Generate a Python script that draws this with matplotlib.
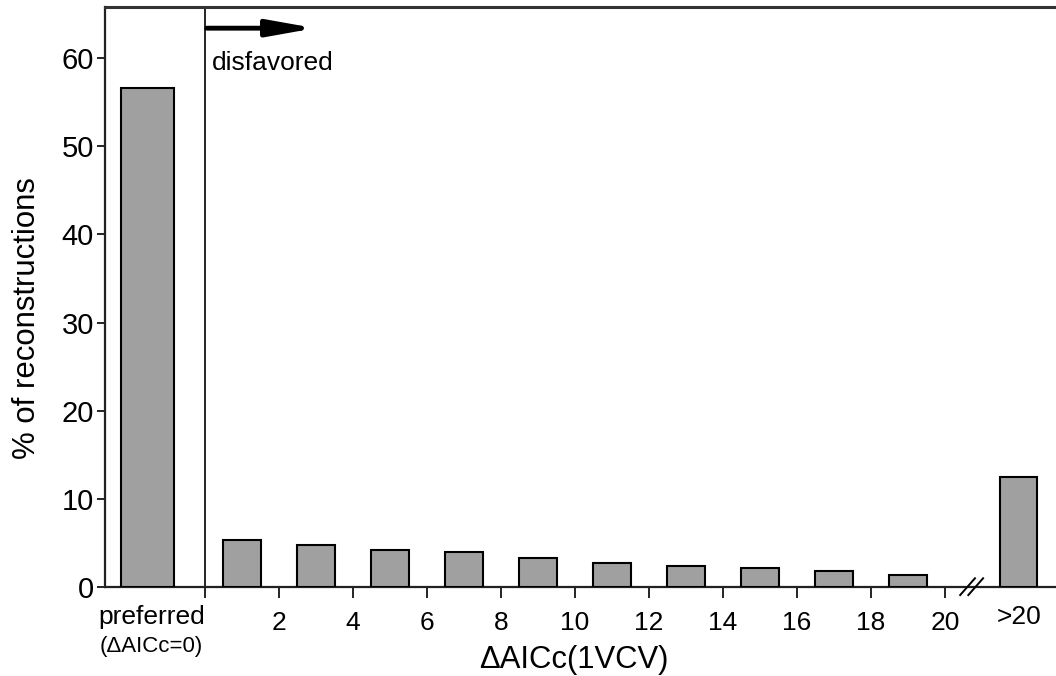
import numpy as np
import matplotlib.pyplot as plt

plt.rcParams['font.family'] = ['Liberation Sans', 'DejaVu Sans']

# data
preferred_pct = 56.6
bin_lower = [0, 2, 4, 6, 8, 10, 12, 14, 16, 18]
bin_pct = [5.33, 4.73, 4.23, 3.93, 3.3, 2.69, 2.38, 2.2, 1.81, 1.4]
over20_pct = 12.5
tick_vals = [0, 2, 4, 6, 8, 10, 12, 14, 16, 18, 20]

bar_color = '#a0a0a0'

fig = plt.figure(figsize=(10.56, 6.76), dpi=100)
ax = fig.add_axes([0.0994, 0.1317, 0.9006, 0.8579])

centers = np.array(bin_lower) + 1
ax.bar(centers, bin_pct, width=1.04, color=bar_color, edgecolor='black', linewidth=1.5, zorder=3)
ax.bar([-1.55], [preferred_pct], width=1.43, color=bar_color, edgecolor='black', linewidth=1.5, zorder=3)
ax.bar([22.0], [over20_pct], width=1.0, color=bar_color, edgecolor='black', linewidth=1.5, zorder=3)

ax.set_xlim(-2.7, 23.0)
ax.set_ylim(0, 65.8)

# boundary between preferred and disfavoured
ax.axvline(0, color='black', linewidth=1.2, zorder=2)

ax.spines['top'].set_linewidth(2.2)
ax.spines['top'].set_color('#333333')
for s in ['left', 'bottom']:
    ax.spines[s].set_linewidth(1.6)
    ax.spines[s].set_color('#222222')
ax.spines['right'].set_visible(False)

ax.set_yticks([0, 10, 20, 30, 40, 50, 60])
ax.tick_params(axis='y', length=6, width=1.2, labelsize=21, pad=2)
ax.set_xticks(tick_vals)
ax.set_xticklabels([''] + [str(v) for v in tick_vals[1:]])
ax.tick_params(axis='x', length=8, width=1.2, labelsize=19, pad=9)

# extra category labels
trans = ax.get_xaxis_transform()
ax.text(-1.45, -0.031, 'preferred', transform=trans, ha='center', va='top', fontsize=19)
ax.text(-1.45, -0.084, '(ΔAICc=0)', transform=trans, ha='center', va='top', fontsize=16)
ax.text(22.0, -0.031, '>20', transform=trans, ha='center', va='top', fontsize=19)

# axis break marks
for dx in (-0.11, 0.11):
    xb = 20.72 + dx
    ax.plot([xb - 0.2, xb + 0.2], [-0.014, 0.015], transform=trans, color='black', lw=1.4, clip_on=False, zorder=4)

# arrow and label
ax.annotate('', xy=(2.98, 63.4), xytext=(0.05, 63.4),
            arrowprops=dict(arrowstyle='-|>,head_length=2.8,head_width=0.5', color='black', lw=3.5,
                            shrinkA=0, shrinkB=0))
ax.text(0.2, 59.5, 'disfavored', ha='left', va='center', fontsize=19)

ax.set_xlabel('ΔAICc(1VCV)', fontsize=22.3)
ax.xaxis.set_label_coords(0.493, -0.1)
ax.set_ylabel('% of reconstructions', fontsize=22.4)
ax.yaxis.set_label_coords(-0.066, 0.464)

fig.savefig('out.png', dpi=100)
